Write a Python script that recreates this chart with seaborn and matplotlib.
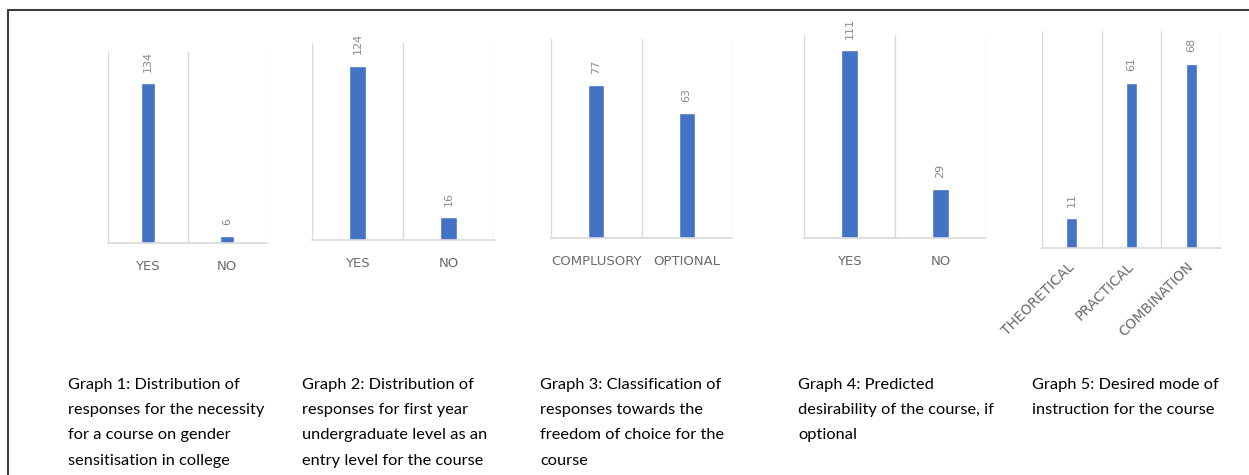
import matplotlib
matplotlib.use("Agg")
import matplotlib.pyplot as plt
from matplotlib.lines import Line2D
import seaborn as sns

# Survey responses, one small dataset per graph
g1_labels = ["YES", "NO"]
g1_values = [134, 6]

g2_labels = ["YES", "NO"]
g2_values = [124, 16]

g3_labels = ["COMPLUSORY", "OPTIONAL"]
g3_values = [77, 63]

g4_labels = ["YES", "NO"]
g4_values = [111, 29]

g5_labels = ["THEORETICAL", "PRACTICAL", "COMBINATION"]
g5_values = [11, 61, 68]

captions = [
    "Graph 1: Distribution of\nresponses for the necessity\nfor a course on gender\nsensitisation in college",
    "Graph 2: Distribution of\nresponses for first year\nundergraduate level as an\nentry level for the course",
    "Graph 3: Classification of\nresponses towards the\nfreedom of choice for the\ncourse",
    "Graph 4: Predicted\ndesirability of the course, if\noptional",
    "Graph 5: Desired mode of\ninstruction for the course",
]

sns.set_style("white")
plt.rcParams["font.family"] = ["DejaVu Sans"]

W, H = 1249, 475
fig = plt.figure(figsize=(W / 100, H / 100), dpi=100)

BAR = "#4472C4"
GRID = "#d9d9d9"
TICK = "#6b6b6b"
VAL = "#8a8a8a"

# panel layout in pixels: left, right, top, bottom, y max
panels = [
    (g1_labels, g1_values, 108, 267, 52, 243, 160),
    (g2_labels, g2_values, 312, 494, 43, 240, 140),
    (g3_labels, g3_values, 551, 732, 39, 238, 100),
    (g4_labels, g4_values, 804, 986, 35, 238, 120),
    (g5_labels, g5_values, 1042, 1221, 31, 248, 80),
]

for i, (labels, values, x0, x1, y0, y1, ymax) in enumerate(panels):
    ax = fig.add_axes([x0 / W, 1 - y1 / H, (x1 - x0) / W, (y1 - y0) / H])
    sns.barplot(x=labels, y=values, ax=ax, color=BAR, saturation=1, width=0.18)
    n = len(labels)
    ax.set_xlim(-0.5, n - 0.5)
    ax.set_ylim(0, ymax)
    ax.set_yticks([])
    ax.set_xlabel("")
    ax.set_ylabel("")
    # vertical grid lines between categories
    ax.set_xticks([k - 0.5 for k in range(n + 1)], minor=True)
    ax.grid(True, axis="x", which="minor", color=GRID, lw=1)
    ax.grid(False, axis="x", which="major")
    ax.set_axisbelow(True)
    for side in ("left", "right", "top"):
        ax.spines[side].set_visible(False)
    ax.spines["bottom"].set_color(GRID)
    ax.spines["bottom"].set_linewidth(1.2)
    ax.tick_params(axis="x", which="both", length=0)
    if i == 4:
        ax.tick_params(axis="x", pad=12)
        for t in ax.get_xticklabels():
            t.set_rotation(45)
            t.set_ha("right")
            t.set_va("center")
            t.set_rotation_mode("anchor")
            t.set_color(TICK)
            t.set_fontsize(10)
    else:
        ax.tick_params(axis="x", pad=12)
        for t in ax.get_xticklabels():
            t.set_color(TICK)
            t.set_fontsize(9.5)
    ax.bar_label(ax.containers[0], rotation=90, padding=8, color=VAL, fontsize=8)

# captions below each graph
cap_x = [68, 302, 540, 798, 1032]
for x, txt in zip(cap_x, captions):
    fig.text(x / W, 1 - 378 / H, txt, ha="left", va="top", fontsize=11.8,
             family=["Lato", "DejaVu Sans"], color="#000000", linespacing=2.02)

# outer frame (top and left edges)
fig.add_artist(Line2D([8 / W, 1.0], [1 - 10 / H, 1 - 10 / H], color="#3c3c3c", lw=1.5))
fig.add_artist(Line2D([8 / W, 8 / W], [0, 1 - 10 / H], color="#3c3c3c", lw=1.5))

fig.savefig("out.png", dpi=100, facecolor="white")
